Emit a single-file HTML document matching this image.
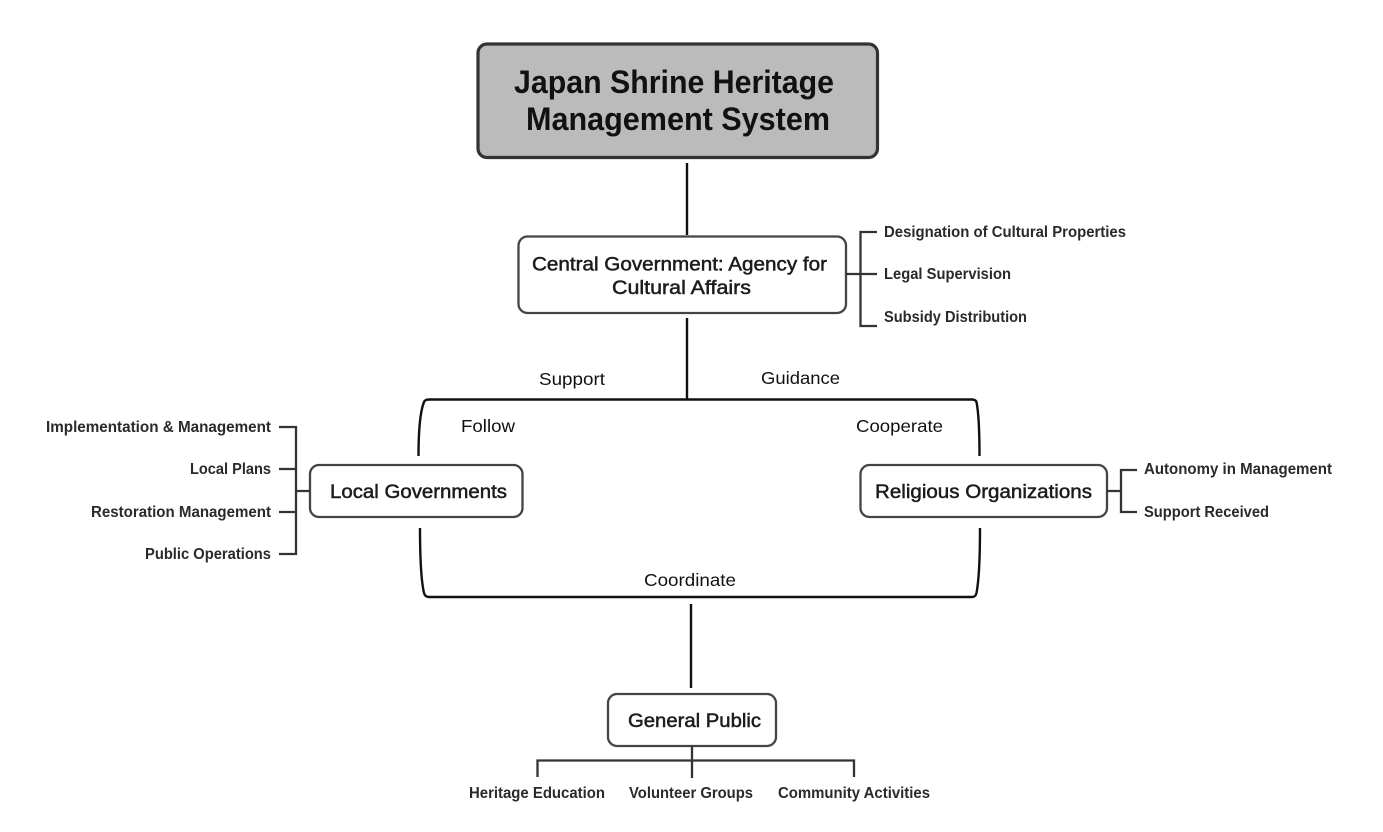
<!DOCTYPE html>
<html><head><meta charset="utf-8"><style>
html,body{margin:0;padding:0;background:#fff}
svg{display:block}
text{font-family:"Liberation Sans",sans-serif;fill:#1c1c1c}
.s{font-size:15.500px;font-weight:700;fill:#2a2a2a}
.m{font-size:19.500px;stroke:#1c1c1c;stroke-width:.5px}
.l{font-size:17.500px;fill:#111}
</style></head><body>
<svg width="1383" height="832" viewBox="0 0 1383 832" xmlns="http://www.w3.org/2000/svg">
<rect x="478" y="44" width="399.500" height="113.500" rx="9" fill="#bbb" stroke="#333" stroke-width="3.200"/>
<text x="514" y="93" textLength="320" lengthAdjust="spacingAndGlyphs" font-size="32" font-weight="700" style="fill:#111">Japan Shrine Heritage</text>
<text x="526" y="130" textLength="304" lengthAdjust="spacingAndGlyphs" font-size="32" font-weight="700" style="fill:#111">Management System</text>
<g fill="none" stroke="#111" stroke-width="2.400">
<path d="M687 163V235M687 318V399M691 604V688"/>
<path d="M418.500 456C418.500 430 420 412 424 402Q425 399.500 429 399.500H972Q975.500 399.500 976.500 402C978.500 412 979.500 430 979.500 456"/>
<path d="M420 528C420 560 421 580 424 593Q425 597 429 597H972Q975.500 597 976.500 593C979 580 980 560 980 528"/>
</g>
<g fill="#fff" stroke="#444" stroke-width="2.300">
<rect x="518.500" y="236.500" width="327.500" height="76.500" rx="9"/>
<rect x="310" y="465" width="212.500" height="52" rx="9"/>
<rect x="860.500" y="465" width="246.500" height="52" rx="9"/>
<rect x="608" y="694" width="168" height="52" rx="9"/>
</g>
<g fill="none" stroke="#333" stroke-width="2.300">
<path d="M877 232H860.500V326H877M846 274H877"/>
<path d="M279 427H296V554H279M279 469H296M279 512H296M296 491H310"/>
<path d="M1137 470H1121V512H1137M1107 491H1121"/>
<path d="M692 746V778M537.500 777V760.500H854V777"/>
</g>
<text class="m" x="532" y="270.500" textLength="295" lengthAdjust="spacingAndGlyphs">Central Government: Agency for</text>
<text class="m" x="612" y="294" textLength="139" lengthAdjust="spacingAndGlyphs">Cultural Affairs</text>
<text class="m" x="330" y="498" textLength="177" lengthAdjust="spacingAndGlyphs">Local Governments</text>
<text class="m" x="875" y="498" textLength="217" lengthAdjust="spacingAndGlyphs">Religious Organizations</text>
<text class="m" x="628" y="727" textLength="133" lengthAdjust="spacingAndGlyphs">General Public</text>
<text class="s" x="884" y="237" textLength="242" lengthAdjust="spacingAndGlyphs">Designation of Cultural Properties</text>
<text class="s" x="884" y="279" textLength="127" lengthAdjust="spacingAndGlyphs">Legal Supervision</text>
<text class="s" x="884" y="322" textLength="143" lengthAdjust="spacingAndGlyphs">Subsidy Distribution</text>
<text class="s" x="46" y="432" textLength="225" lengthAdjust="spacingAndGlyphs">Implementation &amp; Management</text>
<text class="s" x="190" y="474" textLength="81" lengthAdjust="spacingAndGlyphs">Local Plans</text>
<text class="s" x="91" y="517" textLength="180" lengthAdjust="spacingAndGlyphs">Restoration Management</text>
<text class="s" x="145" y="559" textLength="126" lengthAdjust="spacingAndGlyphs">Public Operations</text>
<text class="s" x="1144" y="474" textLength="188" lengthAdjust="spacingAndGlyphs">Autonomy in Management</text>
<text class="s" x="1144" y="517" textLength="125" lengthAdjust="spacingAndGlyphs">Support Received</text>
<text class="s" x="469" y="798" textLength="136" lengthAdjust="spacingAndGlyphs">Heritage Education</text>
<text class="s" x="629" y="798" textLength="124" lengthAdjust="spacingAndGlyphs">Volunteer Groups</text>
<text class="s" x="778" y="798" textLength="152" lengthAdjust="spacingAndGlyphs">Community Activities</text>
<text class="l" x="539" y="385" textLength="66" lengthAdjust="spacingAndGlyphs">Support</text>
<text class="l" x="761" y="384" textLength="79" lengthAdjust="spacingAndGlyphs">Guidance</text>
<text class="l" x="461" y="432" textLength="54" lengthAdjust="spacingAndGlyphs">Follow</text>
<text class="l" x="856" y="432" textLength="87" lengthAdjust="spacingAndGlyphs">Cooperate</text>
<text class="l" x="644" y="586" textLength="92" lengthAdjust="spacingAndGlyphs">Coordinate</text>
</svg>
</body></html>
